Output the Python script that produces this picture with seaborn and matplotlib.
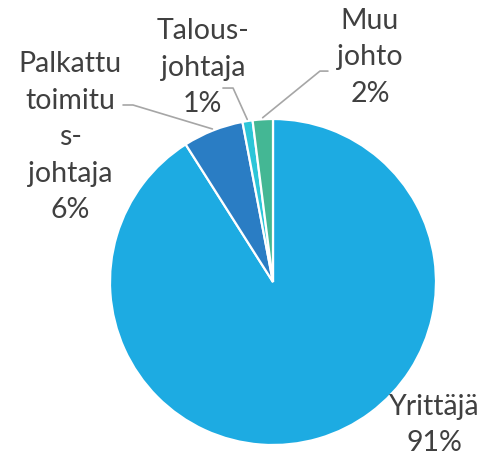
import matplotlib
matplotlib.use("Agg")
import matplotlib.pyplot as plt
import numpy as np
import seaborn as sns

labels = ["Yrittäjä", "Palkattu\ntoimitu\ns-\njohtaja", "Talous-\njohtaja", "Muu\njohto"]
shares = [91, 6, 1, 2]
colors = ["#1DABE2", "#2A7DC4", "#2CC5D8", "#44B794"]

# label centre positions (data units, pie radius = 1)
label_pos = [(0.99, -0.87), (-1.245, 0.895), (-0.43, 1.32), (0.595, 1.385)]
# leader-line elbows (None = no line)
elbows = [None, [(-0.92, 1.086), (-0.859, 1.086)],
          [(-0.307, 1.19), (-0.245, 1.19)],
          [(0.337, 1.294), (0.288, 1.294)]]

sns.set_style("white")
plt.rcParams["font.family"] = ["Lato", "DejaVu Sans"]

fig = plt.figure(figsize=(4.83, 4.60), dpi=100)
ax = fig.add_axes([0.2277, 0.0304, 0.675, 0.7087])
wedges, _ = ax.pie(shares, colors=colors, startangle=90, counterclock=False,
                   wedgeprops=dict(edgecolor="white", linewidth=1.6))
ax.set_xlim(-1, 1)
ax.set_ylim(-1, 1)
ax.set_aspect("equal")
ax.axis("off")

for w, lab, val, pos, elb in zip(wedges, labels, shares, label_pos, elbows):
    ax.text(pos[0], pos[1], f"{lab}\n{val}%", ha="center", va="center",
            fontsize=20.5, color="#404040", linespacing=1.5)
    if elb is not None:
        mid = np.deg2rad((w.theta1 + w.theta2) / 2)
        xs = [elb[0][0], elb[1][0], 1.01 * np.cos(mid)]
        ys = [elb[0][1], elb[1][1], 1.01 * np.sin(mid)]
        ax.plot(xs, ys, color="#A6A6A6", lw=1.2, clip_on=False)

fig.savefig("out.png", dpi=100)
